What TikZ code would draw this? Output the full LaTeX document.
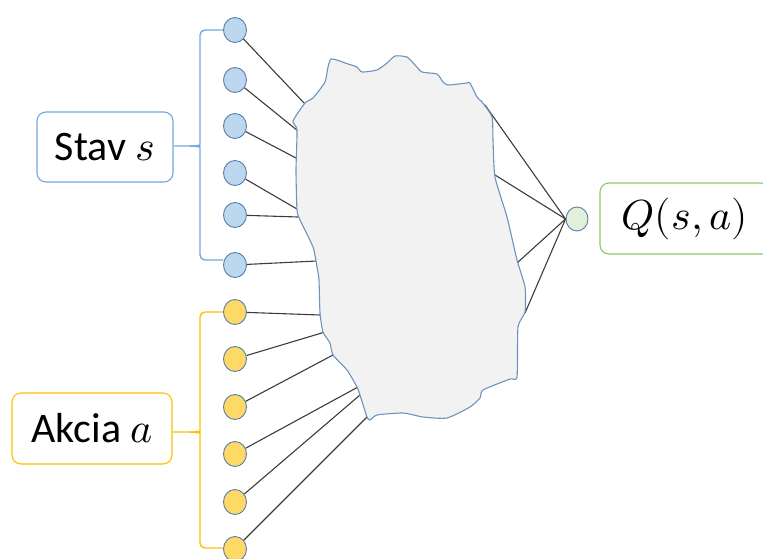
\documentclass[tikz,border=0pt]{standalone}
\usepackage{unicode-math}
\setmainfont{Carlito}
\setmathfont{Latin Modern Math}
\usetikzlibrary{shapes.geometric}

\definecolor{nodeedge}{RGB}{85,125,175}
\definecolor{statefill}{RGB}{189,215,238}
\definecolor{actfill}{RGB}{255,217,102}
\definecolor{outfill}{RGB}{226,240,217}
\definecolor{blobfill}{RGB}{242,242,242}
\definecolor{blobedge}{RGB}{108,147,192}
\definecolor{wire}{RGB}{60,60,60}
\definecolor{stateblue}{RGB}{115,168,222}
\definecolor{actgold}{RGB}{255,192,0}
\definecolor{outgreen}{RGB}{140,200,105}

\tikzset{
  neuron/.style={ellipse, draw=nodeedge, line width=0.9pt,
    minimum width=23pt, minimum height=25pt, inner sep=0pt},
  statenode/.style={neuron, fill=statefill},
  actnode/.style={neuron, fill=actfill},
  outnode/.style={neuron, fill=outfill, minimum width=22pt, minimum height=24pt},
  labelbox/.style={rounded corners=9pt, line width=1.1pt, fill=white,
    inner sep=0pt, font=\fontsize{42}{50}\selectfont},
  wireline/.style={draw=wire, line width=1.1pt},
  bracket/.style={line width=1.4pt, rounded corners=5pt}
}

\begin{document}
\begin{tikzpicture}[x=1pt,y=-1pt]
\useasboundingbox (0,0) rectangle (763,559);

% input layer: state neurons
\foreach \i/\y in {1/30,2/80,3/126,4/173,5/215,6/265}
  \node[statenode] (s\i) at (235,\y) {};
% input layer: action neurons
\foreach \i/\y in {1/312,2/359,3/407,4/454,5/502,6/549}
  \node[actnode] (a\i) at (235,\y) {};
% output neuron
\node[outnode] (q) at (577,219) {};

% label boxes
\node[labelbox, draw=stateblue, minimum width=136pt, minimum height=70pt]
  (stav) at (105,147) {Stav $s$};
\node[labelbox, draw=actgold, minimum width=160pt, minimum height=71pt]
  (akcia) at (92,428.5) {Akcia $a$};
\node[labelbox, draw=outgreen, minimum width=170pt, minimum height=71pt]
  (qval) at (685,218.5) {$Q(s,a)$};

% points where the wires meet the network
\coordinate (bs1) at (305,104);
\coordinate (bs2) at (298,131);
\coordinate (bs3) at (296,158);
\coordinate (bs4) at (297,209);
\coordinate (bs5) at (298,217);
\coordinate (bs6) at (317,261);
\coordinate (ba1) at (320,315);
\coordinate (ba2) at (325,332);
\coordinate (ba3) at (333,355);
\coordinate (ba4) at (358,387);
\coordinate (ba5) at (360,395);
\coordinate (ba6) at (367,417);
\coordinate (bo1) at (485,105);
\coordinate (bo2) at (495,175);
\coordinate (bo3) at (517,263);
\coordinate (bo4) at (525,313);

% wires
\foreach \i in {1,...,6} {
  \draw[wireline] (s\i) -- (bs\i);
  \draw[wireline] (a\i) -- (ba\i);
}
\foreach \i in {1,...,4}
  \draw[wireline] (q.west) -- (bo\i);

% hidden network as an irregular blob
\draw[fill=blobfill, draw=blobedge, line width=1.1pt]
  plot[smooth cycle, tension=0.35] coordinates {
  (331,59) (340,61) (345,63) (357,67) (362,72) (377,70) (387,63) (395,56)
  (407,57) (415,65) (422,72) (437,74) (443,82) (448,85) (467,83) (470,83)
  (477,97) (482,102) (492,117) (493,140) (495,177) (507,217) (517,260)
  (525,287) (525,312) (518,327) (517,377) (510,379) (483,390) (480,398)
  (470,407) (447,418) (423,417) (403,413) (377,415) (370,420) (367,417)
  (360,395) (357,387) (347,370) (333,355) (330,343) (323,332) (320,313)
  (319,280) (317,267) (313,247) (300,220) (297,210) (296,170) (297,130)
  (293,121) (305,103) (313,98) (325,82) (328,67)};

% grouping brackets
\draw[bracket, draw=stateblue]
  (s1.west) -- (200,30) -- (200,140) .. controls (200,145) and (196,146) .. (190,146) -- (stav.east |- 0,146);
\draw[bracket, draw=stateblue]
  (s6.west |- 0,260) -- (200,260) -- (200,152) .. controls (200,147) and (196,146) .. (190,146);
\draw[bracket, draw=actgold]
  (a1.west) -- (200,312) -- (200,426) .. controls (200,431) and (196,432) .. (190,432) -- (akcia.east |- 0,432);
\draw[bracket, draw=actgold]
  (a6.west |- 0,548) -- (200,548) -- (200,438) .. controls (200,433) and (196,432) .. (190,432);
\end{tikzpicture}
\end{document}
